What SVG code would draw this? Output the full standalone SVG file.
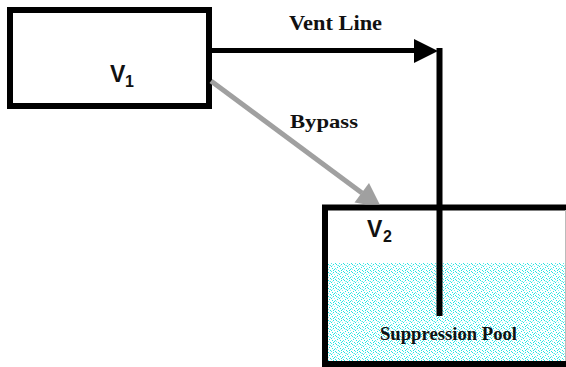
<svg xmlns="http://www.w3.org/2000/svg" width="566" height="367" viewBox="0 0 566 367">
<style>
.box{fill:none;stroke:#000;stroke-width:6}
.lbl{font-family:"Liberation Serif","Times New Roman",serif;font-weight:bold;fill:#111}
.vol{font-family:"Liberation Sans",Arial,sans-serif;font-weight:bold;fill:#111}
</style>
<defs>
<pattern id="dots" width="8" height="8" patternUnits="userSpaceOnUse">
<rect width="8" height="8" fill="#ffffff"/>
<rect x="0" y="0" width="1" height="1" fill="#22e4e4"/>
<rect x="2" y="1" width="1" height="1" fill="#55eaea"/>
<rect x="5" y="0" width="1" height="1" fill="#22e4e4"/>
<rect x="3" y="2" width="1" height="1" fill="#22e4e4"/>
<rect x="6" y="2" width="1" height="1" fill="#88f0f0"/>
<rect x="1" y="3" width="1" height="1" fill="#22e4e4"/>
<rect x="4" y="4" width="1" height="1" fill="#22e4e4"/>
<rect x="7" y="4" width="1" height="1" fill="#55eaea"/>
<rect x="0" y="5" width="1" height="1" fill="#88f0f0"/>
<rect x="2" y="6" width="1" height="1" fill="#22e4e4"/>
<rect x="5" y="6" width="1" height="1" fill="#22e4e4"/>
<rect x="7" y="7" width="1" height="1" fill="#22e4e4"/>
<rect x="3" y="7" width="1" height="1" fill="#55eaea"/>
<rect x="6" y="5" width="1" height="1" fill="#22e4e4"/>
<rect x="1" y="1" width="1" height="1" fill="#aaf4f4"/>
<rect x="4" y="1" width="1" height="1" fill="#aaf4f4"/>
</pattern>
</defs>
<rect width="566" height="367" fill="#ffffff"/>
<g id="v1">
<rect class="box" x="10" y="10" width="199" height="96"/>
<text class="vol" x="110" y="82" font-size="23">V</text>
<text class="vol" x="125" y="87" font-size="16">1</text>
</g>
<g id="v2">
<rect x="328" y="263" width="238" height="98" fill="url(#dots)"/>
<rect class="box" x="325" y="207.5" width="247" height="156.5"/>
<line x1="565.5" y1="210" x2="565.5" y2="361" stroke="#bbbbbb" stroke-width="1"/>
<text class="vol" x="367" y="237" font-size="23">V</text>
<text class="vol" x="383" y="242" font-size="16">2</text>
<text class="lbl" x="380" y="340" font-size="18" textLength="137" lengthAdjust="spacingAndGlyphs">Suppression Pool</text>
</g>
<g id="connectors">
<line x1="211" y1="81" x2="362" y2="193" stroke="#a0a0a0" stroke-width="5"/>
<polygon points="369,183 354.5,202.6 365.9,204.5 379.75,204.5" fill="#a0a0a0"/>
<line x1="212" y1="50.5" x2="416" y2="50.5" stroke="#000" stroke-width="5"/>
<polygon points="414,39 438,51 414,63" fill="#000"/>
<line x1="439.5" y1="48" x2="439.5" y2="316" stroke="#000" stroke-width="6"/>
</g>
<text class="lbl" x="289" y="30" font-size="21" textLength="93" lengthAdjust="spacingAndGlyphs">Vent Line</text>
<text class="lbl" x="290" y="128" font-size="19" textLength="68" lengthAdjust="spacingAndGlyphs">Bypass</text>
</svg>
